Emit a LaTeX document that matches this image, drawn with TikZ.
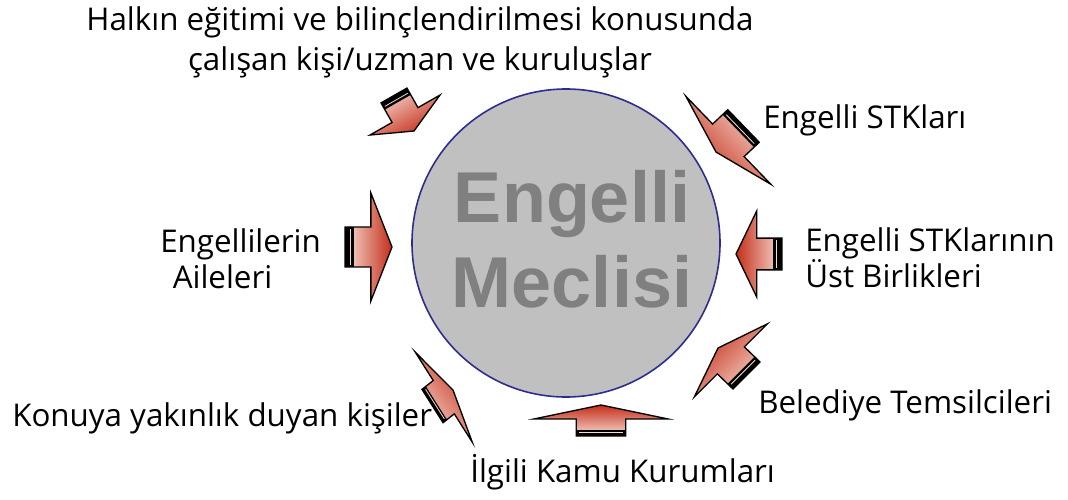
\documentclass[tikz,border=0pt]{standalone}
\usepackage{fontspec}
\setmainfont{Open Sans}
\newfontfamily\boldsans{Liberation Sans}
\usetikzlibrary{calc}

\definecolor{lightpink}{RGB}{248,220,210}
\definecolor{arrowred}{RGB}{196,46,26}
\definecolor{circlegray}{RGB}{192,192,192}
\definecolor{circleblue}{RGB}{45,45,145}
\definecolor{textgray}{RGB}{128,128,128}

\tikzset{
  lbl/.style={font=\fontsize{23.5}{27}\selectfont, inner sep=0pt},
  redarrow/.style={draw=black, line width=1pt, left color=lightpink, right color=arrowred, shading angle=#1},
}

% #1 back, #2 tip, #3 half width of the head, #4 shading angle
\newcommand{\blockarrow}[4]{%
  \path[redarrow=#4] ($#1+0.37*#3$) -- ($#1!0.55!#2+0.37*#3$) -- ($#1!0.55!#2+#3$) -- #2
    -- ($#1!0.55!#2-#3$) -- ($#1!0.55!#2-0.37*#3$) -- ($#1-0.37*#3$) -- cycle;
  \fill ($#1+0.37*#3$) -- ($#1!0.19!#2+0.37*#3$) -- ($#1!0.19!#2-0.37*#3$) -- ($#1-0.37*#3$) -- cycle;
  \draw[lightpink, line width=0.6pt] ($#1!0.12!#2+0.33*#3$) -- ($#1!0.12!#2-0.33*#3$);
}

\begin{document}
\begin{tikzpicture}[x=0.75pt, y=-0.75pt]
\useasboundingbox (0,0) rectangle (1068,500);

\node[circle, draw=circleblue, fill=circlegray, line width=1.2pt, minimum size=231pt] (meclis) at (566,243) {};
\node[align=center, text=textgray, font=\boldsans\bfseries\fontsize{54}{64}\selectfont] (meclisyazi) at (572,239) {Engelli\\Meclisi};

\coordinate (aileB) at (345,247);   \coordinate (aileT) at (392,247);   \coordinate (aileW) at (0,54);
\coordinate (ustB) at (782,254);    \coordinate (ustT) at (736,254);    \coordinate (ustW) at (0,43);
\coordinate (kamuB) at (601,436);   \coordinate (kamuT) at (601,405);   \coordinate (kamuW) at (67,0);
\coordinate (halkB) at (394,95.5);  \coordinate (halkT) at (414,131);   \coordinate (halkW) at (35,-20);
\coordinate (stkB) at (743.5,126);  \coordinate (stkT) at (716,152);    \coordinate (stkW) at (42.5,44);
\coordinate (konB) at (432.5,406);  \coordinate (konT) at (453,390);    \coordinate (konW) at (28.5,45);
\coordinate (belB) at (746.5,375.5);\coordinate (belT) at (718,348);    \coordinate (belW) at (36.5,-36.5);

\blockarrow{(aileB)}{(aileT)}{(aileW)}{90}
\blockarrow{(ustB)}{(ustT)}{(ustW)}{270}
\blockarrow{(kamuB)}{(kamuT)}{(kamuW)}{180}
\blockarrow{(halkB)}{(halkT)}{(halkW)}{29}
\blockarrow{(stkB)}{(stkT)}{(stkW)}{-47}
\blockarrow{(konB)}{(konT)}{(konW)}{128}
\blockarrow{(belB)}{(belT)}{(belW)}{226}

\node[lbl, align=center, font=\fontsize{23.5}{30}\selectfont] (halk) at (420,42) {Halkın eğitimi ve bilinçlendirilmesi konusunda\\çalışan kişi/uzman ve kuruluşlar};
\node[lbl, anchor=west] (stk) at (763,120) {Engelli STKları};
\node[lbl, anchor=west, align=left] (aile) at (160,259) {Engellilerin\\\hspace{0.4em}Aileleri};
\node[lbl, anchor=west, align=left] (ustbirlik) at (805,258) {Engelli STKlarının\\Üst Birlikleri};
\node[lbl, anchor=west] (belediye) at (758,405) {Belediye Temsilcileri};
\node[lbl, anchor=west] (konuya) at (12,418) {Konuya yakınlık duyan kişiler};
\node[lbl, anchor=west] (kamu) at (470,472) {İlgili Kamu Kurumları};
\end{tikzpicture}
\end{document}
